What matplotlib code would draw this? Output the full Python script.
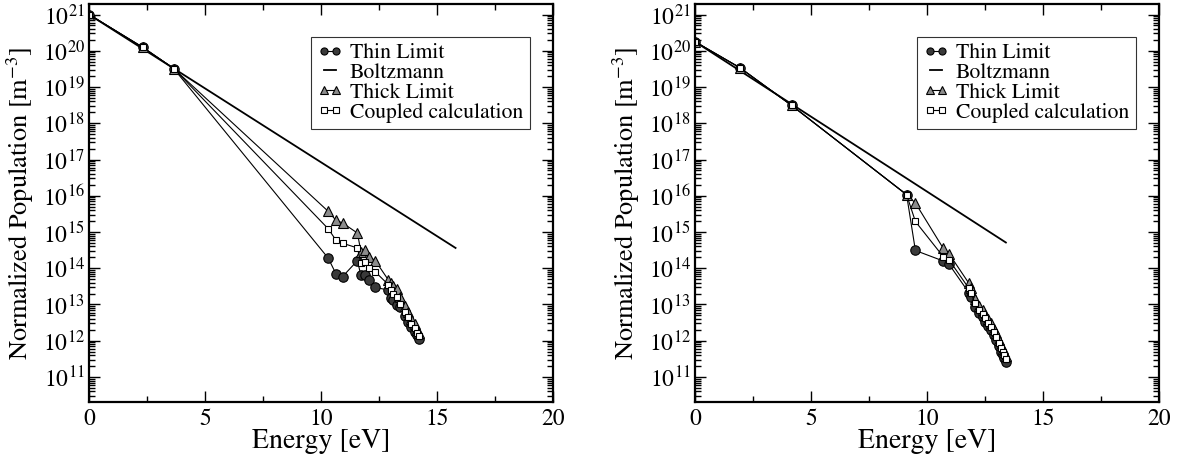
import numpy as np
import matplotlib
matplotlib.use("Agg")
import matplotlib.pyplot as plt
from matplotlib.ticker import FixedLocator, MultipleLocator, LogFormatterSciNotation

plt.rcParams['font.family'] = ['STIXGeneral', 'Liberation Serif', 'DejaVu Serif']
plt.rcParams['mathtext.fontset'] = 'stix'

# ---------------- Left panel data ----------------
L_E = [0, 2.33, 3.65, 10.31, 10.65, 10.93, 11.57, 11.72, 11.89, 12.07, 12.34,
       12.9, 13.0, 13.12, 13.29, 13.4, 13.62, 13.73, 13.9, 14.05, 14.15, 14.24]
L_thin = [21.0, 20.09, 19.51, 14.28, 13.84, 13.77, 14.21, 13.80, 13.82, 13.68, 13.47,
          13.4, 13.17, 13.13, 12.99, 12.94, 12.67, 12.53, 12.39, 12.25, 12.16, 12.04]
L_thick = [21.0, 20.09, 19.51, 15.57, 15.32, 15.25, 14.97, 14.46, 14.51, 14.32, 14.21,
           13.68, 13.59, 13.5, 13.42, 13.2, 12.95, 12.8, 12.6, 12.45, 12.3, 12.2]
L_coupled = [21.0, 20.09, 19.51, 15.09, 14.77, 14.69, 14.56, 14.14, 14.16, 14.0, 13.9,
             13.55, 13.4, 13.3, 13.2, 13.0, 12.8, 12.65, 12.45, 12.35, 12.22, 12.12]
L_boltz_E = [0, 15.8]
L_boltz = [21.0, 14.56]

# ---------------- Right panel data ----------------
R_E = [0, 1.94, 4.17, 9.12, 9.5, 10.7, 10.95, 11.8, 11.9, 12.05, 12.26, 12.4, 12.52,
       12.64, 12.76, 12.88, 12.98, 13.1, 13.2, 13.28, 13.34, 13.4]
R_thin = [20.25, 19.53, 18.49, 16.03, 14.49, 14.2, 14.11, 13.33, 13.2, 12.94, 12.76, 12.65,
          12.53, 12.42, 12.3, 12.15, 12.02, 11.85, 11.7, 11.6, 11.52, 11.42]
R_thick = [20.25, 19.53, 18.49, 16.03, 15.8, 14.55, 14.4, 13.59, 13.45, 13.15, 12.95, 12.85,
           12.72, 12.6, 12.48, 12.33, 12.2, 12.03, 11.88, 11.78, 11.68, 11.58]
R_coupled = [20.25, 19.53, 18.49, 16.03, 15.29, 14.32, 14.23, 13.45, 13.33, 13.05, 12.86, 12.75,
             12.62, 12.5, 12.38, 12.24, 12.1, 11.94, 11.8, 11.7, 11.6, 11.5]
R_boltz_E = [0, 13.4]
R_boltz = [20.25, 14.71]

labels = ["Thin Limit", "Boltzmann", "Thick Limit", "Coupled calculation"]
y_decades = list(range(11, 22))
x_ticks = [0, 5, 10, 15, 20]

fig = plt.figure(figsize=(11.8, 4.57), dpi=100)
axL = fig.add_axes([89/1180, 1-402/457, 464/1180, 398/457])
axR = fig.add_axes([695/1180, 1-402/457, 464/1180, 398/457])


def draw(ax, E, thin, thick, coupled, bE, bv):
    p = lambda v: 10.0 ** np.asarray(v, dtype=float)
    ax.plot(E, p(thin), '-', color='black', lw=0.8, marker='o', ms=6.8,
            mfc='#3a3a3a', mec='black', mew=0.8, label=labels[0])
    ax.plot(bE, p(bv), '-', color='black', lw=1.3, label=labels[1])
    ax.plot(E, p(thick), '-', color='black', lw=0.8, marker='^', ms=6.8,
            mfc='#8c8c8c', mec='black', mew=0.8, label=labels[2])
    ax.plot(E, p(coupled), '-', color='black', lw=0.8, marker='s', ms=5,
            mfc='white', mec='black', mew=0.8, label=labels[3])
    ax.set_yscale('log')
    ax.set_xlim(0, 20)
    ax.set_ylim(10**10.31, 10**21.29)
    ax.set_xticks(x_ticks)
    ax.xaxis.set_minor_locator(MultipleLocator(2.5))
    ax.yaxis.set_major_locator(FixedLocator(p(y_decades)))
    ax.yaxis.set_major_formatter(LogFormatterSciNotation())
    minors = [m * 10.0 ** d for d in range(10, 22) for m in range(2, 10)
              if 10**10.31 <= m * 10.0 ** d <= 10**21.29]
    ax.yaxis.set_minor_locator(FixedLocator(minors))
    ax.tick_params(which='both', direction='in', top=True, right=True,
                   labelsize=17, width=1.0)
    ax.tick_params(which='major', length=8, pad=5)
    ax.tick_params(which='minor', length=4)
    ax.tick_params(axis='y', which='major', pad=3)
    for s in ax.spines.values():
        s.set_linewidth(1.6)
    ax.set_xlabel("Energy [eV]", fontsize=20, labelpad=-1)
    ax.set_ylabel("Normalized Population [m$^{-3}$]", fontsize=19, labelpad=5)
    leg = ax.legend(loc='upper left', bbox_to_anchor=(0.478, 0.918),
                    borderaxespad=0, fontsize=15.6, numpoints=2, handlelength=1.15,
                    handletextpad=0.35, labelspacing=-0.02, borderpad=0.3,
                    fancybox=False, frameon=True, markerscale=0.75)
    leg.get_frame().set_edgecolor('black')
    leg.get_frame().set_linewidth(0.8)


draw(axL, L_E, L_thin, L_thick, L_coupled, L_boltz_E, L_boltz)
draw(axR, R_E, R_thin, R_thick, R_coupled, R_boltz_E, R_boltz)

fig.savefig("out.png", dpi=100)
